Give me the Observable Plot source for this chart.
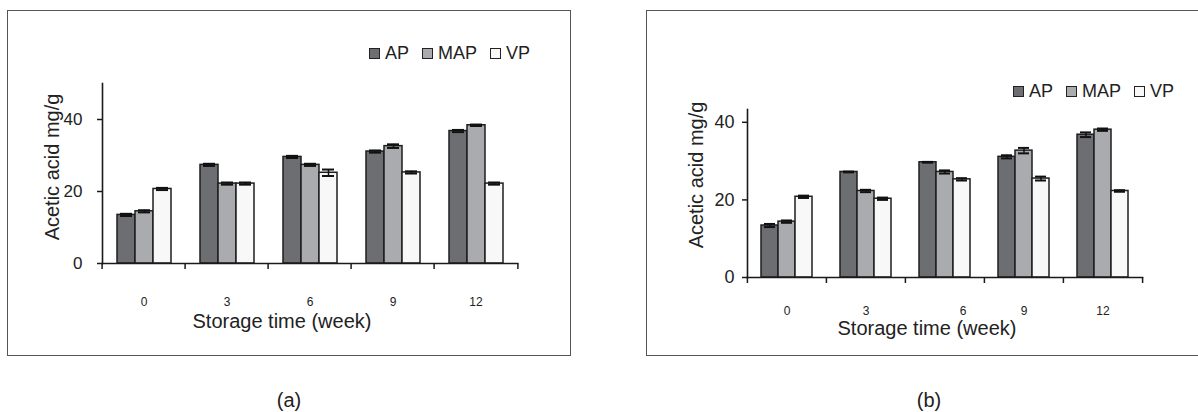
<!DOCTYPE html>
<html><head><meta charset="utf-8">
<script src="https://cdn.jsdelivr.net/npm/d3@7"></script>
<script src="https://cdn.jsdelivr.net/npm/@observablehq/plot@0.6"></script>
<style>
body{margin:0;background:#fff;}
#page{position:relative;width:1198px;height:412px;overflow:hidden;background:#fff;font-family:"Liberation Sans",Arial,sans-serif;color:#222;}
.panel-border{position:absolute;border:1.6px solid #555;box-sizing:border-box;pointer-events:none;}
.chart{position:absolute;top:0;}
.legend{position:absolute;display:flex;align-items:center;font-size:18px;line-height:1;transform:translateY(-50%);white-space:nowrap;}
.legend .item{display:flex;align-items:center;margin-right:13px;}
.legend .sw{width:11px;height:11px;border:1.6px solid #222;box-sizing:border-box;margin-right:5px;}
.label{position:absolute;font-size:20px;line-height:1;white-space:nowrap;transform:translate(-50%,-50%);}
.label.rot{transform:translate(-50%,-50%) rotate(-90deg);}
</style></head>
<body><div id="page"></div>
<script>
// ---- data ----
const weeks = ["0", "3", "6", "9", "12"];
const series = ["AP", "MAP", "VP"];
const colors = ["#6d6e72", "#aaabaf", "#f8f8f8"];
const yTicks = [0, 20, 40];
const xTitle = "Storage time (week)";
const yTitle = "Acetic acid mg/g";

// panel (a)
const apA  = [13.5, 27.4, 29.6, 31.1, 36.8];
const mapA = [14.5, 22.2, 27.4, 32.6, 38.4];
const vpA  = [20.7, 22.2, 25.2, 25.3, 22.2];
const apErrA  = [0.3, 0.3, 0.3, 0.3, 0.3];
const mapErrA = [0.3, 0.3, 0.3, 0.5, 0.2];
const vpErrA  = [0.3, 0.3, 0.9, 0.3, 0.3];

// panel (b)
const apB  = [13.4, 27.2, 29.7, 31.1, 36.8];
const mapB = [14.4, 22.3, 27.2, 32.7, 38.1];
const vpB  = [20.8, 20.3, 25.3, 25.5, 22.3];
const apErrB  = [0.4, 0.1, 0.1, 0.4, 0.6];
const mapErrB = [0.3, 0.3, 0.4, 0.7, 0.3];
const vpErrB  = [0.3, 0.3, 0.3, 0.5, 0.2];

const page = document.getElementById("page");
const FONT = '"Liberation Sans", Arial, sans-serif';

function makeChart(cfg) {
  const values = [cfg.ap, cfg.map, cfg.vp];
  const errs = [cfg.apErr, cfg.mapErr, cfg.vpErr];
  const rows = [];
  weeks.forEach((w, i) => series.forEach((s, j) => rows.push({week: w, series: s, value: values[j][i], err: errs[j][i]})));
  const half = (cfg.width - cfg.ml - cfg.mr) / weeks.length / 2;
  const plainWeeks = weeks.filter(w => !(w in cfg.labelShift));
  const marks = [
    Plot.barY(rows, {fx: "week", x: "series", y: "value", fill: "series", stroke: "#1e1e1e", strokeWidth: 1.5}),
    Plot.ruleX(rows, {fx: "week", x: "series", y1: d => d.value - d.err, y2: d => d.value + d.err, stroke: "#111", strokeWidth: 1.5}),
    Plot.tickY(rows, {fx: "week", x: "series", y: d => d.value + d.err, stroke: "#111", strokeWidth: 2, insetLeft: 3, insetRight: 3}),
    Plot.tickY(rows, {fx: "week", x: "series", y: d => d.value - d.err, stroke: "#111", strokeWidth: 2, insetLeft: 3, insetRight: 3}),
    Plot.frame({anchor: "left", facet: "super", stroke: "#1a1a1a", strokeWidth: 1.6}),
    Plot.frame({anchor: "bottom", facet: "super", stroke: "#1a1a1a", strokeWidth: 1.6}),
    Plot.axisY({ticks: yTicks, tickSize: 5, tickPadding: cfg.yPad, fontSize: cfg.yFont, label: null, stroke: "#1a1a1a", strokeWidth: 1.5, fill: "#222"}),
    Plot.axisFx({anchor: "bottom", ticks: plainWeeks, tickSize: 0, tickPadding: cfg.xPad, fontSize: 12, label: null, fill: "#222"}),
    Plot.axisFx({anchor: "bottom", tickSize: 6, tickFormat: () => "", dx: -half, label: null, stroke: "#1a1a1a", strokeWidth: 1.5}),
    Plot.axisFx({anchor: "bottom", ticks: [weeks[weeks.length - 1]], tickSize: 6, tickFormat: () => "", dx: half, label: null, stroke: "#1a1a1a", strokeWidth: 1.5})
  ];
  for (const w of Object.keys(cfg.labelShift)) {
    marks.push(Plot.axisFx({anchor: "bottom", ticks: [w], tickSize: 0, tickPadding: cfg.xPad, fontSize: 12, label: null, dx: cfg.labelShift[w], fill: "#222"}));
  }
  const svg = Plot.plot({
    width: cfg.width, height: cfg.height,
    marginLeft: cfg.ml, marginRight: cfg.mr, marginTop: cfg.mt, marginBottom: cfg.mb,
    style: {fontFamily: FONT, fontSize: "12px", color: "#222", background: "transparent", overflow: "visible"},
    fx: {domain: weeks, padding: 0},
    x: {domain: series, paddingInner: 0, paddingOuter: 0.76, axis: null},
    y: {domain: [0, cfg.yMax]},
    color: {domain: series, range: colors},
    marks
  });
  svg.classList.add("chart");
  svg.style.left = cfg.left + "px";
  page.appendChild(svg);
}

function makeLegend(left, top) {
  const lg = document.createElement("div");
  lg.className = "legend";
  lg.style.left = left + "px";
  lg.style.top = top + "px";
  series.forEach((s, i) => {
    const it = document.createElement("div"); it.className = "item";
    const sw = document.createElement("div"); sw.className = "sw"; sw.style.background = colors[i];
    const tx = document.createElement("span"); tx.textContent = s;
    it.appendChild(sw); it.appendChild(tx); lg.appendChild(it);
  });
  page.appendChild(lg);
}

function makeBorder(left, top, width, height) {
  const b = document.createElement("div"); b.className = "panel-border";
  Object.assign(b.style, {left: left + "px", top: top + "px", width: width + "px", height: height + "px"});
  page.appendChild(b);
}

function makeLabel(text, x, y, rotated) {
  const c = document.createElement("div"); c.className = "label" + (rotated ? " rot" : "");
  c.textContent = text; c.style.left = x + "px"; c.style.top = y + "px";
  page.appendChild(c);
}

makeChart({left: 0, width: 600, height: 360, ml: 100, mr: 81, mt: 83, mb: 97, yMax: 50,
  ap: apA, map: mapA, vp: vpA, apErr: apErrA, mapErr: mapErrA, vpErr: vpErrA,
  yPad: 15, yFont: 17, xPad: 34, labelShift: {}});
makeChart({left: 600, width: 598, height: 360, ml: 146, mr: 56, mt: 109, mb: 83, yMax: 43.3,
  ap: apB, map: mapB, vp: vpB, apErr: apErrB, mapErr: mapErrB, vpErr: vpErrB,
  yPad: 8, yFont: 18, xPad: 29, labelShift: {"6": 18}});

makeBorder(7, 10, 564, 346);
makeBorder(646, 10, 600, 346);
makeLegend(369, 53);
makeLegend(1013, 91);
makeLabel(yTitle, 52, 167, true);
makeLabel(xTitle, 282, 321, false);
makeLabel(yTitle, 696, 175, true);
makeLabel(xTitle, 927, 328, false);
makeLabel("(a)", 289, 400, false);
makeLabel("(b)", 929, 400, false);
</script></body></html>
